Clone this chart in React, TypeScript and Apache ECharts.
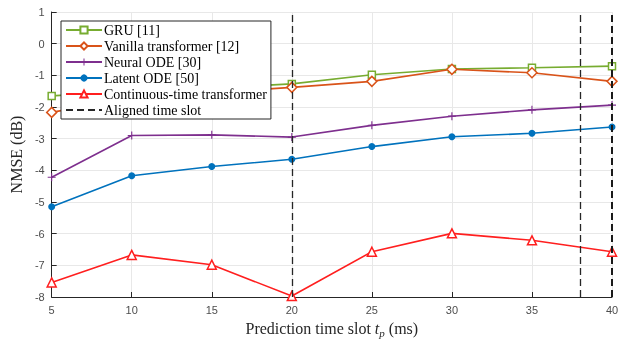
import React, { useEffect, useRef } from "react";
import * as echarts from "echarts";

const timeSlots = [5, 10, 15, 20, 25, 30, 35, 40];
const gru = [-1.65, -1.5, -1.4, -1.27, -0.98, -0.8, -0.76, -0.71];
const vanilla = [-2.17, -1.7, -1.55, -1.38, -1.19, -0.81, -0.92, -1.19];
const neuralOde = [-4.22, -2.9, -2.88, -2.95, -2.58, -2.29, -2.09, -1.94];
const latentOde = [-5.15, -4.17, -3.88, -3.65, -3.25, -2.94, -2.83, -2.63];
const ctTransformer = [-7.54, -6.67, -6.98, -7.97, -6.57, -5.99, -6.21, -6.57];
const alignedSlots = [20, 38, 40];
const yTicks = { min: -8, max: 1, interval: 1 };
const xTicks = { min: 5, max: 40, interval: 5 };

const seriesNames = [
  "GRU [11]",
  "Vanilla transformer [12]",
  "Neural ODE [30]",
  "Latent ODE [50]",
  "Continuous-time transformer",
];

const plusPath = "path://M4.3,0 L5.7,0 L5.7,4.3 L10,4.3 L10,5.7 L5.7,5.7 L5.7,10 L4.3,10 L4.3,5.7 L0,5.7 L0,4.3 L4.3,4.3 Z";

export default function App() {
  const ref = useRef<HTMLDivElement>(null);
  useEffect(() => {
    if (!ref.current) return;
    const chart = echarts.init(ref.current, undefined, { renderer: "svg" });
    const zip = (ys: number[]) => timeSlots.map((x, i) => [x, ys[i]]);
    const mk = (
      name: string,
      ys: number[],
      color: string,
      symbol: string,
      size: number,
      filled: boolean
    ) => ({
      name,
      type: "line",
      data: zip(ys),
      symbol,
      symbolSize: size,
      showSymbol: true,
      lineStyle: { color, width: 1.6 },
      itemStyle: filled
        ? { color, borderColor: color, borderWidth: 0 }
        : { color: "#ffffff", borderColor: color, borderWidth: 1.5 },
      emphasis: { disabled: true },
      z: 3,
    });
    const serif = "Liberation Serif";
    const sans = "Liberation Sans";
    chart.setOption({
      animation: false,
      grid: { left: 51, right: 10, top: 12, bottom: 43 },
      xAxis: {
        type: "value",
        min: xTicks.min,
        max: xTicks.max,
        interval: xTicks.interval,
        name: "{a|Prediction time slot }{i|t}{s|p}{a| (ms)}",
        nameLocation: "middle",
        nameGap: 22,
        nameTextStyle: {
          fontFamily: serif,
          fontSize: 16,
          color: "#262626",
          rich: {
            a: { fontFamily: serif, fontSize: 16, color: "#262626" },
            i: { fontFamily: serif, fontSize: 16, fontStyle: "italic", color: "#262626" },
            s: { fontFamily: serif, fontSize: 11, fontStyle: "italic", color: "#262626", padding: [8, 0, 0, 0] },
          },
        },
        axisLine: { show: true, onZero: false, lineStyle: { color: "#262626", width: 1 } },
        axisTick: { show: true, inside: true, length: 5, lineStyle: { color: "#262626" } },
        axisLabel: { fontFamily: sans, fontSize: 11, color: "#4d4d4d", margin: 7 },
        splitLine: { show: true, lineStyle: { color: "#e8e8e8", width: 1 } },
      },
      yAxis: {
        type: "value",
        min: yTicks.min,
        max: yTicks.max,
        interval: yTicks.interval,
        name: "NMSE (dB)",
        nameLocation: "middle",
        nameGap: 24,
        nameTextStyle: { fontFamily: serif, fontSize: 16, color: "#262626" },
        axisLine: { show: true, onZero: false, lineStyle: { color: "#262626", width: 1 } },
        axisTick: { show: true, inside: true, length: 5, lineStyle: { color: "#262626" } },
        axisLabel: { fontFamily: sans, fontSize: 11, color: "#4d4d4d", margin: 7 },
        splitLine: { show: true, lineStyle: { color: "#e8e8e8", width: 1 } },
      },
      legend: {
        orient: "vertical",
        left: 61,
        top: 21,
        padding: [2, 4, 2, 4],
        itemGap: 2,
        itemWidth: 36,
        itemHeight: 9,
        backgroundColor: "#ffffff",
        borderColor: "#262626",
        borderWidth: 1,
        borderRadius: 0,
        textStyle: { fontFamily: serif, fontSize: 14, lineHeight: 14, color: "#000000", padding: [0, 0, 0, -3] },
        data: [...seriesNames, "Aligned time slot"],
        z: 10,
      },
      series: [
        mk(seriesNames[0], gru, "#77AC30", "rect", 7, false),
        mk(seriesNames[1], vanilla, "#D95319", "diamond", 10, false),
        mk(seriesNames[2], neuralOde, "#7E2F8E", plusPath, 8, true),
        mk(seriesNames[3], latentOde, "#0072BD", "circle", 7, true),
        mk(seriesNames[4], ctTransformer, "#FF1F1F", "triangle", 9, false),
        {
          name: "Aligned time slot",
          type: "line",
          data: [],
          symbol: "none",
          lineStyle: { color: "#262626", width: 1.3, type: [7, 4] },
          itemStyle: { color: "rgba(0,0,0,0)", borderWidth: 0 },
          markLine: {
            silent: true,
            symbol: "none",
            label: { show: false },
            lineStyle: { color: "#262626", width: 1.3, type: [7, 4] },
            data: alignedSlots.map((x, i) =>
              i === alignedSlots.length - 1
                ? { xAxis: x, lineStyle: { color: "#1a1a1a", width: 2, type: [7, 4] } }
                : { xAxis: x }
            ),
          },
          z: 2,
        },
      ],
    });
    return () => chart.dispose();
  }, []);
  return <div ref={ref} style={{ position: "fixed", left: 0, top: 0, width: 622, height: 343 }} />;
}
